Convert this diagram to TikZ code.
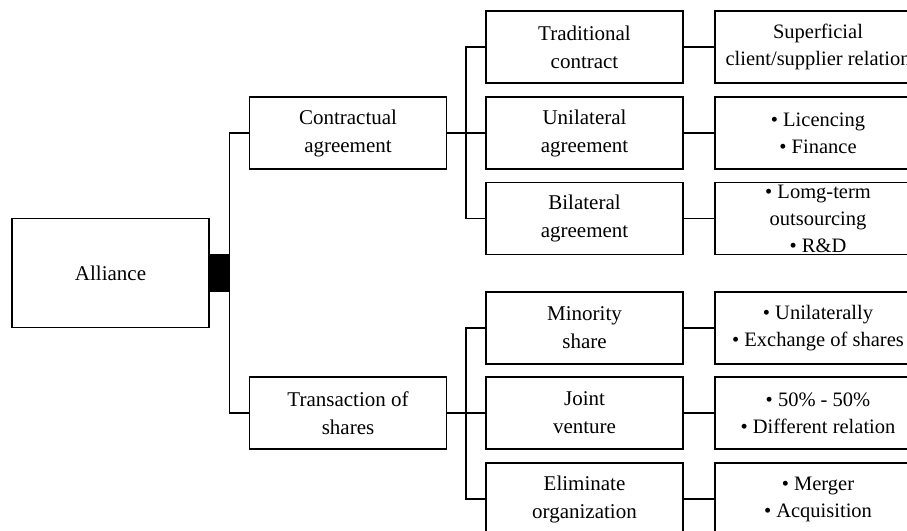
\documentclass[tikz,border=0pt]{standalone}
\usepackage{fontspec}
\setmainfont{Liberation Serif}
\begin{document}
\begin{tikzpicture}[x=1pt,y=-1pt,
  wire/.style={line width=1.4pt, line join=miter},
  box/.style={draw, line width=1.4pt, minimum width=197pt, minimum height=72pt,
    align=center, inner sep=0pt, font=\fontsize{21}{28}\selectfont},
  leaf/.style={box, minimum width=206pt, font=\fontsize{20.5}{27}\selectfont},
  root/.style={box, minimum height=109pt},
  knob/.style={fill=black, draw=none, minimum width=20pt, minimum height=38pt, inner sep=0pt}]
\useasboundingbox (0,0) rectangle (907,530);
\clip (0,0) rectangle (907,530);

% root and its connector block
\node[root] (alliance) at (110.5,273) {Alliance};
\node[knob] (knob) at (219,273) {};

% second level
\node[box] (contr) at (348,133) {Contractual\\agreement};
\node[box] (trans) at (348,413) {Transaction of\\shares};

% third level
\node[box] (trad) at (584.5,47)  {Traditional\\contract};
\node[box] (uni)  at (584.5,133) {Unilateral\\agreement};
\node[box] (bil)  at (584.5,218.5) {Bilateral\\agreement};
\node[box] (mino) at (584.5,328) {Minority\\share};
\node[box] (joint) at (584.5,413) {Joint\\venture};
\node[box] (elim) at (584.5,499) {Eliminate\\organization};

% details
\node[leaf] (sup) at (818,47) {Superficial\\client/supplier relation};
\node[leaf] (lic) at (818,133) {• Licencing\\• Finance};
\node[leaf] (out) at (818,218.5) {• Lomg-term\\outsourcing\\• R\&D};
\node[leaf] (exch) at (818,328) {• Unilaterally\\• Exchange of shares};
\node[leaf] (fifty) at (818,413) {• 50\% - 50\%\\• Different relation};
\node[leaf] (merg) at (818,499) {• Merger\\• Acquisition};

% trunk from the root
\draw[wire] (contr.west) -| (knob.east);
\draw[wire] (trans.west) -| (knob.east);

% buses of the third level
\coordinate (busA) at (466,133);
\coordinate (busB) at (466,413);
\draw[wire] (contr.east) -- (uni.west);
\draw[wire] (trad.west) -| (busA);
\draw[wire] (bil.west) -| (busA);
\draw[wire] (trans.east) -- (joint.west);
\draw[wire] (mino.west) -| (busB);
\draw[wire] (elim.west) -| (busB);

% links to the details
\draw[wire] (trad.east) -- (sup.west);
\draw[wire] (uni.east) -- (lic.west);
\draw[wire] (bil.east) -- (out.west);
\draw[wire] (mino.east) -- (exch.west);
\draw[wire] (joint.east) -- (fifty.west);
\draw[wire] (elim.east) -- (merg.west);
\end{tikzpicture}
\end{document}
